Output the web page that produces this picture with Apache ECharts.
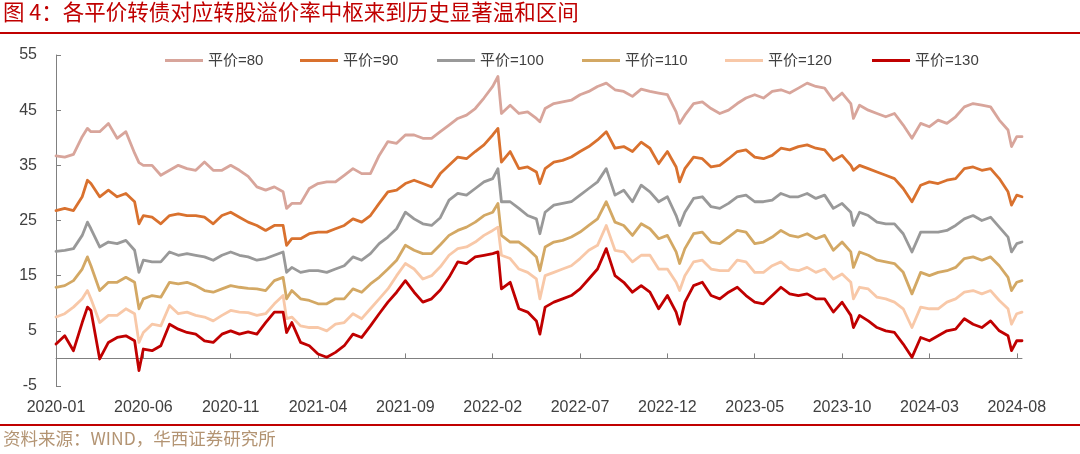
<!DOCTYPE html>
<html>
<head>
<meta charset="utf-8">
<script src="https://cdn.jsdelivr.net/npm/echarts@6/dist/echarts.min.js"></script>
<style>
  html, body { margin: 0; padding: 0; background: #fff; }
  #chart { width: 1080px; height: 454px; }
</style>
</head>
<body>
<div id="chart"></div>
<script>
// x position = months since 2020-01
const months = [
  0, 0.5, 1, 1.5, 1.8, 2, 2.5, 3, 3.5, 4, 4.5, 4.75, 5, 5.5,
  6, 6.5, 7, 7.5, 8, 8.5, 9, 9.5, 10, 10.5, 11, 11.5, 12, 12.5,
  13, 13.2, 13.5, 14, 14.5, 15, 15.5, 16, 16.5, 17, 17.5, 18, 18.5, 19, 19.5,
  20, 20.5, 21, 21.5, 22, 22.5, 23, 23.5, 24, 24.5, 25, 25.3, 25.5,
  26, 26.5, 27, 27.5, 27.7, 28, 28.5, 29, 29.5, 30, 30.5, 31, 31.5,
  32, 32.5, 33, 33.5, 34, 34.5, 35, 35.5, 35.7, 36, 36.5, 37, 37.5,
  38, 38.5, 39, 39.5, 40, 40.5, 41, 41.5, 42, 42.5, 43, 43.5, 44, 44.5,
  45, 45.5, 45.65, 46, 46.5, 47, 47.5, 48, 48.5, 49, 49.5, 50, 50.5, 51,
  51.5, 52, 52.5, 53, 53.5, 54, 54.5, 54.7, 55, 55.3
];

const p80 = [
  36.7, 36.5, 37.0, 40.2, 41.7, 41.1, 41.1, 42.6, 39.9, 41.1, 37.2, 35.5, 35.0, 35.0,
  33.2, 34.1, 35.0, 34.4, 34.1, 35.6, 34.1, 34.1, 35.0, 34.1, 33.0, 31.1, 30.5, 31.1,
  30.2, 27.2, 28.1, 28.1, 30.8, 31.7, 32.0, 32.0, 33.2, 34.4, 33.5, 33.5, 36.8, 39.3, 39.0,
  40.5, 40.5, 39.9, 39.9, 41.1, 42.3, 43.5, 44.1, 45.3, 47.2, 49.3, 51.1, 44.4,
  45.9, 44.4, 44.7, 43.5, 42.9, 45.3, 46.2, 46.5, 46.8, 47.8, 48.4, 49.3, 49.9,
  48.7, 48.4, 47.5, 48.8, 48.4, 48.1, 47.8, 44.7, 42.6, 44.1, 46.2, 46.5, 45.3,
  44.4, 45.0, 46.2, 47.2, 47.8, 47.2, 48.4, 48.7, 48.1, 49.0, 49.9, 49.3, 49.0, 46.8,
  48.1, 46.2, 43.5, 45.9, 45.0, 44.4, 43.8, 44.4, 42.3, 39.9, 42.6, 42.0, 43.2, 42.6,
  43.8, 45.6, 46.2, 45.9, 45.6, 43.2, 41.4, 38.4, 40.2, 40.2
];
const p90 = [
  26.8, 27.2, 26.8, 29.3, 32.3, 31.7, 29.3, 30.5, 29.3, 29.9, 28.4, 24.4, 25.9, 25.6,
  24.4, 25.9, 26.2, 25.9, 25.9, 25.6, 24.4, 25.9, 26.5, 25.6, 24.7, 24.1, 23.2, 24.1,
  24.1, 20.5, 21.7, 21.7, 22.6, 22.9, 22.9, 23.5, 24.1, 25.3, 24.7, 25.9, 28.1, 30.2, 30.5,
  31.7, 32.3, 31.7, 31.1, 33.5, 35.0, 36.5, 36.2, 37.5, 38.7, 40.5, 41.7, 35.6,
  37.5, 34.4, 34.7, 33.8, 31.7, 34.4, 35.6, 35.9, 36.5, 37.5, 38.4, 39.6, 41.1,
  38.1, 38.4, 37.5, 39.2, 38.1, 35.3, 37.5, 34.7, 32.0, 34.4, 36.5, 36.2, 34.7,
  35.0, 36.2, 37.5, 37.8, 36.5, 36.2, 36.8, 38.1, 37.8, 38.4, 38.7, 38.1, 37.8, 35.9,
  36.8, 35.0, 34.1, 35.0, 34.4, 33.8, 33.2, 32.6, 30.8, 28.4, 31.4, 32.0, 31.7, 32.3,
  32.6, 34.4, 34.7, 34.1, 34.4, 32.6, 30.2, 27.8, 29.6, 29.3
];
const p100 = [
  19.4, 19.6, 19.9, 22.3, 24.7, 23.5, 20.2, 21.1, 20.8, 21.4, 19.6, 15.6, 17.8, 17.5,
  17.5, 19.3, 18.7, 19.0, 18.7, 18.4, 17.8, 18.7, 19.3, 18.7, 18.4, 17.8, 18.1, 18.7,
  19.3, 15.6, 16.5, 15.6, 15.9, 15.9, 15.6, 16.2, 16.8, 18.4, 17.8, 19.0, 20.8, 22.0, 23.5,
  26.5, 25.3, 24.4, 24.1, 25.5, 28.7, 29.9, 29.6, 30.8, 32.0, 32.6, 34.4, 28.4,
  28.4, 27.2, 25.9, 25.3, 22.6, 26.5, 27.8, 28.1, 28.4, 29.6, 30.8, 32.0, 34.4,
  29.6, 30.5, 28.4, 31.4, 30.2, 28.4, 29.3, 25.9, 24.1, 26.5, 29.0, 29.3, 27.5,
  27.2, 28.1, 29.3, 29.6, 28.4, 28.4, 28.7, 29.9, 29.3, 29.3, 29.9, 29.0, 29.6, 27.2,
  28.1, 26.5, 24.1, 26.5, 25.9, 24.7, 24.4, 24.4, 22.6, 19.3, 22.9, 22.9, 22.9, 23.2,
  24.1, 25.3, 25.9, 25.0, 25.6, 23.8, 22.0, 19.3, 20.8, 21.1
];
const p110 = [
  12.9, 13.2, 14.1, 16.2, 18.4, 16.8, 12.3, 13.8, 13.8, 14.7, 13.8, 9.0, 10.8, 11.4,
  11.1, 13.8, 13.5, 13.8, 13.2, 12.3, 12.0, 12.6, 13.2, 12.9, 12.7, 12.6, 12.3, 14.1,
  14.7, 10.8, 12.3, 10.8, 10.5, 9.9, 9.9, 10.8, 10.8, 12.6, 12.0, 13.5, 14.7, 16.2, 17.8,
  20.5, 19.6, 19.0, 19.0, 20.6, 22.3, 23.2, 23.8, 24.7, 25.9, 26.5, 28.1, 22.3,
  21.1, 21.1, 19.9, 18.4, 15.9, 20.2, 21.1, 21.4, 22.0, 22.9, 24.1, 25.3, 28.4,
  24.7, 24.1, 22.3, 24.4, 23.5, 21.7, 22.3, 19.3, 17.2, 19.9, 22.6, 22.9, 21.1,
  20.8, 22.0, 23.2, 22.9, 20.8, 21.1, 22.0, 23.2, 22.3, 22.0, 22.6, 21.7, 22.3, 19.6,
  21.1, 19.3, 16.5, 19.3, 18.7, 17.8, 17.5, 17.2, 15.6, 11.7, 15.6, 15.0, 15.6, 15.9,
  16.5, 18.1, 18.4, 17.8, 18.4, 16.8, 14.7, 12.3, 13.8, 14.1
];
const p120 = [
  7.5, 8.1, 9.3, 10.8, 12.3, 10.8, 6.5, 7.8, 7.8, 9.0, 8.1, 2.9, 4.7, 6.2,
  5.9, 9.6, 8.1, 8.4, 7.8, 7.5, 6.8, 7.8, 8.7, 8.4, 8.3, 7.8, 8.1, 9.9,
  11.4, 7.2, 7.5, 5.9, 5.6, 5.6, 5.0, 6.2, 6.5, 8.1, 7.2, 9.0, 10.8, 12.6, 15.0,
  17.2, 16.2, 14.4, 15.0, 16.6, 18.7, 19.9, 20.2, 21.1, 22.3, 23.2, 23.8, 18.7,
  18.1, 16.2, 15.6, 14.4, 10.8, 15.0, 15.6, 16.2, 16.8, 18.1, 19.6, 20.5, 24.1,
  19.6, 19.3, 17.5, 18.7, 18.7, 16.2, 16.2, 13.8, 12.3, 15.0, 17.5, 17.8, 16.2,
  15.9, 15.9, 17.8, 17.5, 15.6, 15.6, 16.8, 17.5, 16.2, 15.9, 16.5, 15.6, 16.2, 14.4,
  15.3, 13.8, 10.8, 12.9, 12.6, 11.1, 10.8, 10.2, 9.0, 5.6, 9.3, 9.0, 9.0, 10.2,
  10.8, 12.0, 12.3, 11.7, 12.3, 10.5, 9.0, 6.2, 8.1, 8.4
];
const p130 = [
  2.6, 4.1, 1.4, 6.5, 9.3, 8.7, -0.1, 2.9, 3.8, 4.1, 3.2, -2.2, 1.7, 1.4,
  2.3, 6.2, 5.3, 4.7, 4.4, 3.2, 2.9, 4.4, 5.0, 4.4, 4.8, 4.4, 6.5, 8.4,
  8.4, 4.7, 6.5, 2.9, 2.3, 0.8, 0.2, 1.1, 2.3, 4.4, 3.8, 5.9, 8.1, 10.2, 12.0,
  14.1, 12.0, 10.2, 10.8, 12.4, 14.7, 17.5, 17.2, 18.4, 18.7, 19.0, 19.3, 12.6,
  13.8, 9.0, 8.4, 6.8, 4.4, 9.3, 10.2, 10.8, 11.4, 12.6, 14.4, 16.2, 19.9,
  15.0, 13.8, 12.0, 13.2, 12.0, 9.0, 11.4, 8.4, 6.2, 10.2, 13.2, 13.8, 11.4,
  10.8, 12.0, 12.9, 11.4, 10.2, 9.9, 11.4, 12.9, 11.7, 11.4, 11.7, 10.8, 10.8, 8.4,
  10.2, 7.8, 5.6, 7.8, 6.8, 5.6, 5.0, 4.7, 2.6, 0.2, 3.8, 3.2, 4.1, 5.0,
  5.3, 7.2, 6.2, 5.6, 6.8, 5.0, 4.1, 1.4, 3.2, 3.2
];

const seriesNames = ['平价=80', '平价=90', '平价=100', '平价=110', '平价=120', '平价=130'];
const seriesData = [p80, p90, p100, p110, p120, p130];
const seriesColors = ['#D8A59B', '#D9712E', '#999999', '#D3A864', '#F8C8A8', '#C00000'];

const xTickMonths = [0, 5, 10, 15, 20, 25, 30, 35, 40, 45, 50, 55];
const xTickLabels = ['2020-01', '2020-06', '2020-11', '2021-04', '2021-09', '2022-02',
  '2022-07', '2022-12', '2023-05', '2023-10', '2024-03', '2024-08'];

const legendLeft = [160, 295, 432, 577, 720, 867];
const axisGray = '#808080';
const textGray = '#404040';
const latinFont = '"Liberation Sans", Arial, "Noto Sans CJK SC", sans-serif';

const chart = echarts.init(document.getElementById('chart'));

const option = {
  animation: false,
  textStyle: { fontFamily: latinFont },
  graphic: [
    {
      type: 'text', left: 3, top: 1,
      style: {
        text: '图 4：各平价转债对应转股溢价率中枢来到历史显著温和区间',
        fill: '#C00000',
        font: '21.5px "Noto Sans CJK SC", sans-serif'
      }
    },
    { type: 'rect', left: 0, top: 32, shape: { width: 1080, height: 2 }, style: { fill: '#C00000' } },
    { type: 'rect', left: 0, top: 424, shape: { width: 1080, height: 2 }, style: { fill: '#C00000' } },
    {
      type: 'text', left: 3, top: 430,
      style: {
        text: '资料来源：WIND，华西证券研究所',
        fill: '#B39473',
        font: '17.5px "Noto Sans CJK SC", sans-serif'
      }
    }
  ],
  legend: seriesNames.map((name, i) => ({
    data: [name],
    left: legendLeft[i],
    top: 48,
    icon: 'rect',
    itemWidth: 38,
    itemHeight: 3,
    textStyle: { fontSize: 15, color: textGray, fontFamily: latinFont }
  })),
  grid: { left: 56, right: 58, top: 55, bottom: 68, containLabel: false },
  xAxis: [
    {
      type: 'value', min: 0, max: 55.3, position: 'bottom',
      axisLine: { show: true, onZero: true, lineStyle: { color: axisGray, width: 1 } },
      axisTick: { show: true, inside: true, length: 5, customValues: xTickMonths, lineStyle: { color: axisGray } },
      axisLabel: { show: false },
      splitLine: { show: false }
    },
    {
      type: 'value', min: 0, max: 55.3, position: 'bottom',
      axisLine: { show: false, onZero: false },
      axisTick: { show: false },
      axisLabel: {
        show: true,
        customValues: xTickMonths,
        formatter: (v) => {
          const k = xTickMonths.indexOf(v);
          return k >= 0 ? xTickLabels[k] : '';
        },
        margin: 14,
        fontSize: 16,
        color: textGray
      },
      splitLine: { show: false }
    }
  ],
  yAxis: {
    type: 'value', min: -5, max: 55, interval: 10,
    axisLine: { show: true, onZero: false, lineStyle: { color: axisGray, width: 1 } },
    axisTick: { show: true, inside: true, length: 5, lineStyle: { color: axisGray } },
    axisLabel: { fontSize: 16, color: textGray, margin: 19 },
    splitLine: { show: false }
  },
  series: seriesNames.map((name, i) => ({
    name: name,
    type: 'line',
    xAxisIndex: 0,
    data: months.map((m, j) => [m, seriesData[i][j]]),
    showSymbol: false,
    symbol: 'none',
    lineStyle: { width: 2.8, color: seriesColors[i], cap: 'round', join: 'round' },
    itemStyle: { color: seriesColors[i] },
    z: 2 + i
  }))
};

chart.setOption(option);
</script>
</body>
</html>
